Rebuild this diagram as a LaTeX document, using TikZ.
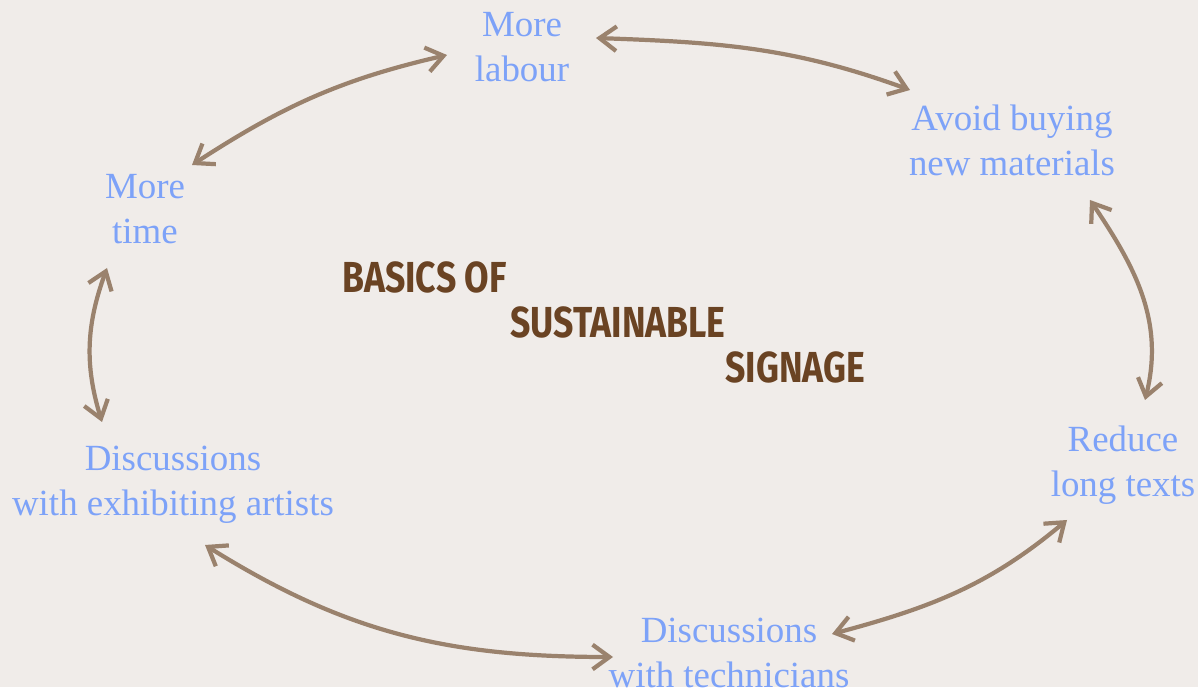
\documentclass[tikz,border=0pt]{standalone}
\usepackage{fontspec}
\setmainfont{Liberation Serif}
\newfontfamily\titlefont{Fira Sans}
\usetikzlibrary{arrows.meta}

\definecolor{paper}{HTML}{F0ECE9}
\definecolor{itemblue}{HTML}{7DA2F8}
\definecolor{titlebrown}{HTML}{6A4323}
\definecolor{linkbrown}{HTML}{9A826D}

\tikzset{
  item/.style={text=itemblue, align=center, inner sep=0pt,
    font=\fontsize{21}{25.5}\selectfont},
  heading/.style={text=titlebrown, anchor=base west, inner sep=0pt,
    font=\fontsize{24.7}{30}\titlefont\bfseries},
  barb/.tip={Straight Barb[length=9.6pt, width=14pt]},
  link/.style={draw=linkbrown, line width=2.4pt, {barb}-{barb}}
}

\begin{document}
\begin{tikzpicture}[x=0.02cm, y=0.02cm]
  \fill[paper] (0,0) rectangle (1198,687);
  \useasboundingbox (0,0) rectangle (1198,687);

  % the six items round the ring
  \node[item] (labour) at (522,640) {More\\labour};
  \node[item] (avoid) at (1012,547) {Avoid buying\\new materials};
  \node[item] (time) at (145,478) {More\\time};
  \node[item] (artists) at (173,202) {Discussions\\with exhibiting artists};
  \node[item] (tech) at (729,34) {Discussions\\with technicians};
  \node[item] (reduce) at (1123,222) {Reduce\\long texts};

  % heading in the middle
  \node[heading] (basics) at (342,394) {\scalebox{0.82}[1]{BASICS OF}};
  \node[heading] (sustain) at (510,349) {\scalebox{0.82}[1]{SUSTAINABLE}};
  \node[heading] (signage) at (725,304) {\scalebox{0.82}[1]{SIGNAGE}};

  % links
  \draw[link] ([shift={(47,44)}]time.center) to[out=33, in=193] ([shift={(-75,-8)}]labour.center);
  \draw[link] ([shift={(74,9)}]labour.center) to[out=-2, in=160] ([shift={(-102,50)}]avoid.center);
  \draw[link] ([shift={(78,-60)}]avoid.center) to[out=-56, in=76] ([shift={(22,65)}]reduce.center);
  \draw[link] ([shift={(-56,-55)}]reduce.center) to[out=220, in=15] ([shift={(103,19)}]tech.center);
  \draw[link] ([shift={(-116,-4)}]tech.center) to[out=180, in=-32] ([shift={(32,-60)}]artists.center);
  \draw[link] ([shift={(-71,63)}]artists.center) to[out=107, in=250] ([shift={(-38,-59)}]time.center);
\end{tikzpicture}
\end{document}
